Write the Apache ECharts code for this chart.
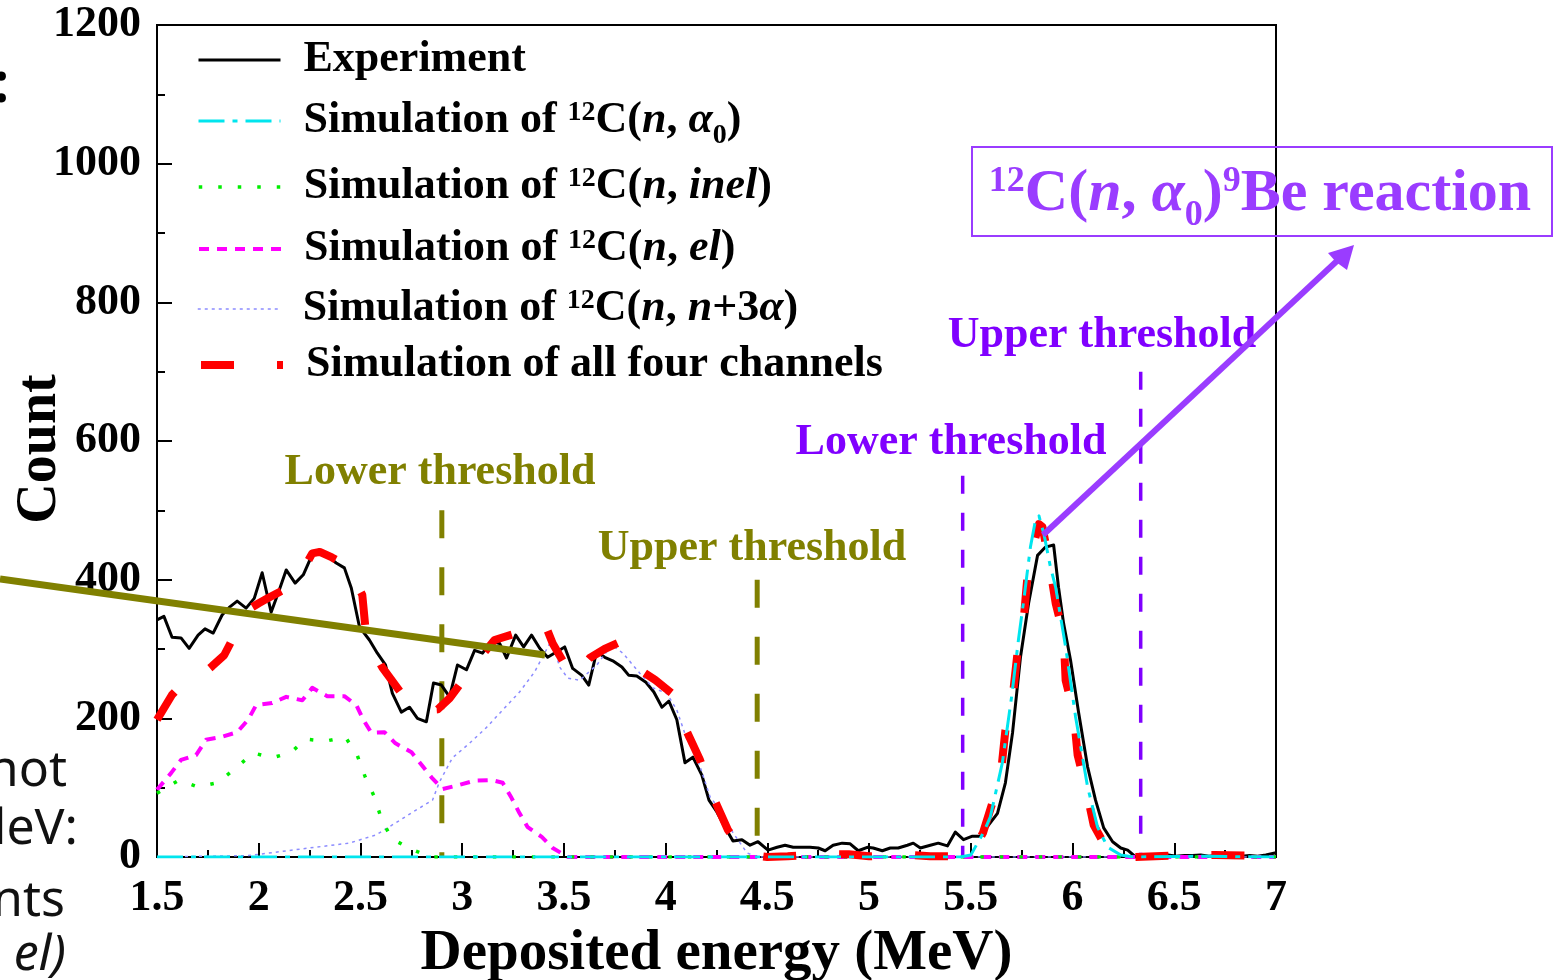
<!DOCTYPE html>
<html><head><meta charset="utf-8">
<script src="https://cdn.jsdelivr.net/npm/echarts@6/dist/echarts.min.js"></script>
<style>html,body{margin:0;padding:0;background:#fff}#c{width:1555px;height:980px}</style>
</head><body><div id="c"></div>
<script>
// ---------- data ----------
const expE = [1.50,1.534,1.574,1.618,1.658,1.702,1.736,1.776,1.820,1.855,
  1.894,1.938,1.978,2.017,2.061,2.101,2.135,2.179,2.219,2.258,
  2.298,2.337,2.381,2.421,2.455,2.495,2.544,2.583,2.623,2.657,
  2.701,2.741,2.780,2.824,2.859,2.898,2.938,2.977,3.021,3.061,
  3.100,3.144,3.184,3.218,3.263,3.302,3.341,3.381,3.420,3.465,
  3.504,3.543,3.588,3.622,3.661,3.701,3.740,3.785,3.819,3.858,
  3.903,3.942,3.982,4.016,4.055,4.095,4.134,4.178,4.213,4.252,
  4.292,4.331,4.375,4.415,4.454,4.503,4.548,4.587,4.627,4.671,
  4.710,4.750,4.784,4.823,4.868,4.907,4.947,4.991,5.020,5.065,
  5.104,5.143,5.188,5.217,5.252,5.301,5.340,5.385,5.424,5.464,
  5.508,5.547,5.587,5.631,5.670,5.705,5.744,5.784,5.828,5.867,
  5.907,5.931,5.956,5.990,6.030,6.074,6.113,6.153,6.197,6.237,
  6.271,6.310,6.350,6.39,6.43,6.47,6.51,6.55,6.59,6.63,
  6.67,6.71,6.75,6.79,6.83,6.87,6.91,6.95,7.0];
const expC = [342,347,317,316,301,320,329,323,349,360,
  369,359,373,410,353,385,414,395,407,433,
  443,434,424,417,388,332,313,294,277,236,
  209,216,200,195,251,248,231,277,270,298,
  294,311,308,287,320,303,320,301,288,296,
  303,272,262,248,296,288,283,274,262,261,
  252,238,216,225,198,136,144,118,82,65,
  43,23,25,17,22,10,14,17,14,14,
  14,13,9,17,20,19,9,14,13,9,
  13,13,17,20,13,17,20,16,36,25,
  30,30,46,63,107,179,288,366,435,447,
  450,389,337,284,208,130,82,42,22,13,
  10,0,1,3,2,3,1,2,2,3,
  1,2,4,2,1,2,1,3,6];

const alphaE = [1.5,2.0,2.5,3.0,3.5,4.0,4.5,5.0,5.45,5.50,5.562,5.596,5.655,5.70,5.734,5.76,5.793,5.818,5.835,5.86,5.89,5.917,5.966,6.015,6.074,6.123,6.173,6.237,6.30,6.6,7.0];
const alphaC = [0,0,0,0,0,0,0,0,0,3,35,58,136,230,313,370,447,486,492,465,420,389,303,202,101,43,14,3,0,1,0];

const inelE = [1.50,1.608,1.702,1.795,1.874,1.973,2.066,2.160,2.229,2.327,2.426,2.485,2.524,2.568,2.603,2.652,2.736,2.844,3.5,4.5,5.5,6.5,7.0];
const inelC = [92,111,101,107,125,150,143,151,170,167,173,146,115,87,55,27,13,0,0,0,0,0,0];

const elE = [1.50,1.569,1.618,1.692,1.741,1.815,1.894,1.948,1.987,2.066,2.135,2.214,2.263,2.337,2.421,2.480,2.514,2.554,2.618,2.672,2.751,2.800,2.849,2.903,2.987,3.061,3.144,3.199,3.243,3.282,3.322,3.391,3.445,3.519,4.5,5.5,6.5,7.0];
const elC = [97,121,140,147,169,173,180,198,219,222,231,226,244,232,232,219,198,179,180,164,151,133,115,98,104,110,111,107,85,63,43,29,13,0,0,0,0,0];

const n3aE = [1.5,1.95,2.248,2.445,2.578,2.677,2.775,2.854,2.888,2.952,3.036,3.120,3.199,3.282,3.356,3.405,3.440,3.479,3.519,3.578,3.662,3.735,3.790,3.873,3.937,4.006,4.055,4.105,4.154,4.218,4.267,4.331,4.400,4.45,5.5,7.0];
const n3aC = [0,2,13,20,32,50,68,82,108,143,164,187,212,238,267,294,313,274,258,255,277,306,294,265,244,236,212,169,144,87,68,35,6,0,0,0];

const sumE = [1.50,1.574,1.62,1.67,1.717,1.77,1.83,1.89,1.943,2.00,2.037,2.10,2.184,2.22,2.263,2.30,2.36,2.431,2.47,2.509,2.529,2.608,2.701,2.77,2.829,2.88,2.938,3.036,3.10,3.159,3.268,3.32,3.371,3.405,3.445,3.50,3.543,3.627,3.70,3.775,3.858,3.95,4.031,4.085,4.169,4.218,4.306,4.36,4.425,4.50,4.6,4.75,4.9,5.0,5.1,5.2,5.3,5.4,5.46,5.513,5.56,5.606,5.646,5.670,5.705,5.730,5.759,5.779,5.808,5.835,5.852,5.882,5.917,5.956,5.966,6.005,6.025,6.064,6.104,6.178,6.23,6.30,6.5,6.7,6.9,7.0];
const sumC = [198,234,248,256,262,275,291,325,356,366,372,382,395,415,438,440,432,421,400,378,316,273,236,222,212,213,229,267,292,313,323,328,334,337,308,280,260,287,300,310,273,255,236,193,140,97,39,18,3,0,1,4,4,1,2,3,1,1,3,10,35,78,115,183,229,296,339,407,450,480,476,431,366,320,255,209,147,101,46,7,2,0,2,3,2,3];

const thrE = [2.9, 4.45, 5.46, 6.335];
const thrTop = [500, 400, 550, 700];

const yTicks = [0, 200, 400, 600, 800, 1000, 1200];
const xTicks = [1.5, 2, 2.5, 3, 3.5, 4, 4.5, 5, 5.5, 6, 6.5, 7];

// ---------- names ----------
const N_EXP = 'Experiment';
const N_A = 'Simulation of 12C(n, α0)';
const N_I = 'Simulation of 12C(n, inel)';
const N_E = 'Simulation of 12C(n, el)';
const N_N = 'Simulation of 12C(n, n+3α)';
const N_S = 'Simulation of all four channels';
const legendRich = {
  [N_EXP]: '{b|Experiment}',
  [N_A]: '{b|Simulation of }{sup|12}{b|C(}{i|n}{b|, }{i|α}{sub|0}{b|)}',
  [N_I]: '{b|Simulation of }{sup|12}{b|C(}{i|n}{b|, }{i|inel}{b|)}',
  [N_E]: '{b|Simulation of }{sup|12}{b|C(}{i|n}{b|, }{i|el}{b|)}',
  [N_N]: '{b|Simulation of }{sup|12}{b|C(}{i|n}{b|, }{i|n}{b|+3}{i|α}{b|)}',
  [N_S]: '{b|Simulation of all four channels}'
};

const zip = (a, b) => a.map((v, i) => [v, b[i]]);
const SERIF = 'Liberation Serif';
const OLIVE = '#808000';
const PURPLE = '#8000ff';
const PURPLE2 = '#9a3cff';

const rich = {
  b: {fontFamily: SERIF, fontWeight: 'bold', fontSize: 44, lineHeight: 44, color: '#000'},
  i: {fontFamily: SERIF, fontWeight: 'bold', fontStyle: 'italic', fontSize: 44, lineHeight: 44, color: '#000'},
  sup: {fontFamily: SERIF, fontWeight: 'bold', fontSize: 28, lineHeight: 26, verticalAlign: 'top', color: '#000'},
  sub: {fontFamily: SERIF, fontWeight: 'bold', fontSize: 28, lineHeight: 10, verticalAlign: 'middle', padding: [30, 0, 0, 0], color: '#000'}
};

const legendOrder = [N_EXP, N_A, N_I, N_E, N_N, N_S];
const legendTops = [38, 92, 165, 227, 287, 343];
const legends = legendOrder.map((n, k) => ({
  data: [n], left: 197, top: legendTops[k], padding: 0,
  itemWidth: 82, itemHeight: 20, selectedMode: false, orient: 'vertical',
  itemStyle: {opacity: 0},
  lineStyle: {width: 'inherit', type: 'inherit', cap: 'inherit', color: 'inherit'},
  formatter: (name) => legendRich[name],
  textStyle: {rich: rich, padding: [0, 0, 0, 18]}
}));

function line(name, E, C, color, width, type, z) {
  return {name, type: 'line', data: zip(E, C), showSymbol: false, symbol: 'none',
    lineStyle: {color, width, type, cap: 'butt', join: 'round'}, itemStyle: {color},
    z: z, animation: false, silent: true};
}

const thrColors = [OLIVE, OLIVE, PURPLE, PURPLE];
const thrSeries = thrE.map((e, k) => ({
  name: 'thr' + k, type: 'line', data: [[e, thrTop[k]], [e, 0]], symbol: 'none',
  lineStyle: {color: thrColors[k], width: k < 2 ? 5 : 3.5, type: k < 2 ? [28, 29] : [18, 19], cap: 'butt'},
  z: 1, animation: false, silent: true
}));

const chart = echarts.init(document.getElementById('c'), null, {renderer: 'canvas'});
const labelFont = {fontFamily: SERIF, fontWeight: 'bold', fontSize: 44, color: '#000'};

const option = {
  animation: false,
  backgroundColor: '#fff',
  grid: {left: 157, right: 279, top: 25, bottom: 123, containLabel: false, outerBoundsMode: 'none',
    show: true, borderColor: '#000', borderWidth: 2, backgroundColor: 'transparent'},
  legend: legends,
  xAxis: {
    type: 'value', min: xTicks[0], max: xTicks[xTicks.length - 1], interval: 0.5,
    axisLine: {show: true, onZero: false, lineStyle: {color: '#000', width: 2}},
    axisTick: {show: true, inside: true, length: 14, lineStyle: {color: '#000', width: 2}},
    minorTick: {show: true, splitNumber: 2, length: 7, lineStyle: {color: '#000', width: 2}},
    splitLine: {show: false},
    axisLabel: Object.assign({margin: 20, formatter: v => String(v)}, labelFont),
    name: 'Deposited energy (MeV)', nameLocation: 'middle', nameGap: 64,
    nameTextStyle: {fontFamily: SERIF, fontWeight: 'bold', fontSize: 57, color: '#000'}
  },
  yAxis: {
    type: 'value', min: yTicks[0], max: yTicks[yTicks.length - 1], interval: 200,
    axisLine: {show: true, lineStyle: {color: '#000', width: 2}},
    axisTick: {show: true, inside: true, length: 15, lineStyle: {color: '#000', width: 2}},
    minorTick: {show: true, splitNumber: 2, length: 8, lineStyle: {color: '#000', width: 2}},
    splitLine: {show: false},
    axisLabel: Object.assign({margin: 16, formatter: v => String(v)}, labelFont)
  },
  series: [
    line(N_EXP, expE, expC, '#000000', 3, 'solid', 3),
    line(N_N, n3aE, n3aC, '#8c8cff', 1.5, [3, 4], 4),
    line(N_E, elE, elC, '#ff00ff', 4, [10, 8], 4),
    line(N_I, inelE, inelC, '#00ee00', 3.5, [3.5, 16], 4),
    line(N_S, sumE, sumC, '#ff0000', 8, [33, 43], 5),
    line(N_A, alphaE, alphaC, '#00e5ee', 3, [26, 8, 5, 8], 6)
  ].concat(thrSeries),
  graphic: [
    // y axis title
    {type: 'text', x: 41, y: 449, rotation: Math.PI / 2, z: 100,
     style: {text: 'Count', fontFamily: SERIF, fontWeight: 'bold', fontSize: 56, fill: '#000', align: 'center', verticalAlign: 'middle'}},
    // threshold labels
    {type: 'text', x: 440, y: 473, z: 100, style: {text: 'Lower threshold', font: 'bold 44px "Liberation Serif"', fill: OLIVE, align: 'center', verticalAlign: 'middle'}},
    {type: 'text', x: 752, y: 549, z: 100, style: {text: 'Upper threshold', font: 'bold 44px "Liberation Serif"', fill: OLIVE, align: 'center', verticalAlign: 'middle'}},
    {type: 'text', x: 951, y: 443, z: 100, style: {text: 'Lower threshold', font: 'bold 44px "Liberation Serif"', fill: PURPLE, align: 'center', verticalAlign: 'middle'}},
    {type: 'text', x: 1102, y: 336, z: 100, style: {text: 'Upper threshold', font: 'bold 44px "Liberation Serif"', fill: PURPLE, align: 'center', verticalAlign: 'middle'}},
    // reaction box
    {type: 'rect', z: 100, shape: {x: 972, y: 147, width: 580, height: 89}, style: {fill: 'none', stroke: PURPLE2, lineWidth: 2}},
    {type: 'text', x: 1260, y: 194, z: 101, style: {
      text: '{sup|12}{b|C(}{i|n}{b|, }{i|α}{sub|0}{b|)}{sup|9}{b|Be reaction}',
      align: 'center', verticalAlign: 'middle',
      rich: {
        b: {fontFamily: SERIF, fontWeight: 'bold', fontSize: 60, lineHeight: 60, fill: PURPLE2},
        i: {fontFamily: SERIF, fontWeight: 'bold', fontStyle: 'italic', fontSize: 60, lineHeight: 60, fill: PURPLE2},
        sup: {fontFamily: SERIF, fontWeight: 'bold', fontSize: 36, lineHeight: 34, verticalAlign: 'top', fill: PURPLE2},
        sub: {fontFamily: SERIF, fontWeight: 'bold', fontSize: 36, lineHeight: 10, verticalAlign: 'middle', padding: [44, 0, 0, 0], fill: PURPLE2}
      }}},
    // arrow
    {type: 'line', z: 102, shape: {x1: 1043, y1: 535, x2: 1338, y2: 260}, style: {stroke: PURPLE2, lineWidth: 6}},
    {type: 'polygon', z: 102, shape: {points: [[1354, 245], [1328, 253], [1336, 262], [1347, 270]]}, style: {fill: PURPLE2}},
    // stray olive line from neighbouring panel
    {type: 'line', z: 103, shape: {x1: 0, y1: 579, x2: 545, y2: 655}, style: {stroke: OLIVE, lineWidth: 7}},
    // stray text fragments from neighbouring panel
    {type: 'text', x: 1, y: 86, z: 100, style: {text: ':', font: 'bold 56px "Noto Sans"', fill: '#000', align: 'center', verticalAlign: 'middle'}},
    {type: 'text', x: 67, y: 772, z: 100, style: {text: 'not', font: '50px "Noto Sans"', fill: '#111', align: 'right', verticalAlign: 'middle'}},
    {type: 'text', x: 78, y: 830, z: 100, style: {text: 'leV:', font: '50px "Noto Sans"', fill: '#111', align: 'right', verticalAlign: 'middle'}},
    {type: 'text', x: 65, y: 902, z: 100, style: {text: 'nts', font: '50px "Noto Sans"', fill: '#111', align: 'right', verticalAlign: 'middle'}},
    {type: 'text', x: 66, y: 956, z: 100, style: {text: 'el)', font: 'italic 50px "Noto Sans"', fill: '#111', align: 'right', verticalAlign: 'middle'}}
  ]
};
chart.setOption(option);
</script></body></html>
